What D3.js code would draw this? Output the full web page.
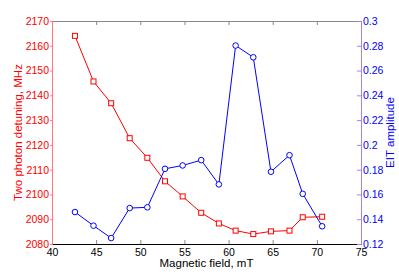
<!DOCTYPE html>
<html>
<head>
<meta charset="utf-8">
<script src="https://d3js.org/d3.v7.min.js"></script>
<style>
  body { margin: 0; background: #fff; }
  text { font-family: "Liberation Sans", Arial, sans-serif; }
</style>
</head>
<body>
<div id="chart"></div>
<script>
// data
var field = [42.6, 44.7, 46.7, 48.8, 50.8, 52.8, 54.8, 56.9, 58.9, 60.8, 62.8, 64.8, 66.9, 68.4, 70.6];
var detuning = [2164, 2145.6, 2136.8, 2122.7, 2114.8, 2105.3, 2099.2, 2092.6, 2088.3, 2085.4, 2084.0, 2085.1, 2085.4, 2090.8, 2091.0];
var eit = [0.1458, 0.1348, 0.1248, 0.149, 0.1496, 0.1807, 0.1834, 0.1877, 0.1681, 0.2802, 0.2707, 0.1783, 0.1917, 0.1605, 0.1343];
var xTicks = [40, 45, 50, 55, 60, 65, 70, 75];
var leftTicks = [2080, 2090, 2100, 2110, 2120, 2130, 2140, 2150, 2160, 2170];
var rightTicks = [0.12, 0.14, 0.16, 0.18, 0.2, 0.22, 0.24, 0.26, 0.28, 0.3];

var W = 399, H = 275;
var margin = {top: 21, right: 38, bottom: 31, left: 52};
var width = W - margin.left - margin.right,
    height = H - margin.top - margin.bottom;

var svg = d3.select("#chart").append("svg")
    .attr("width", W).attr("height", H)
  .append("g")
    .attr("transform", "translate(" + margin.left + "," + margin.top + ")");

var x = d3.scaleLinear().domain([40, 75]).range([0, width]);
var yL = d3.scaleLinear().domain([2080, 2170]).range([height, 0]);
var yR = d3.scaleLinear().domain([0.12, 0.3]).range([height, 0]);

var red = "#ff0000", blue = "#0000ff";

// top axis (grey, ticks inward)
var topAxis = svg.append("g")
  .call(d3.axisTop(x).tickValues(xTicks).tickSize(-4).tickFormat(""));
topAxis.select(".domain").attr("stroke", "#888");
topAxis.selectAll(".tick line").attr("stroke", "#888");

// bottom axis
var bot = svg.append("g")
  .attr("transform", "translate(0," + height + ")")
  .call(d3.axisBottom(x).tickValues(xTicks).tickSize(-4).tickPadding(4));
bot.select(".domain").attr("stroke", "#000");
bot.selectAll(".tick line").attr("stroke", "#888");
bot.selectAll("text").attr("font-size", "10.5px").attr("fill", "#000").attr("dy", "0.75em");

// left axis
var la = svg.append("g")
  .call(d3.axisLeft(yL).tickValues(leftTicks).tickSize(2).tickPadding(1).tickFormat(d3.format("d")));
la.select(".domain").attr("stroke", "#ff7a7a");
la.selectAll(".tick line").attr("stroke", "#ff7a7a");
la.selectAll("text").attr("font-size", "10.5px").attr("fill", red);

// right axis
var ra = svg.append("g")
  .attr("transform", "translate(" + width + ",0)")
  .call(d3.axisRight(yR).tickValues(rightTicks).tickSize(-4).tickPadding(2)
    .tickFormat(function(d) { return d3.format("~g")(d); }));
ra.select(".domain").attr("stroke", "#9a88ee");
ra.selectAll(".tick line").attr("stroke", "#9a88ee");
ra.selectAll("text").attr("font-size", "10.5px").attr("fill", blue);

// red line with squares
svg.append("path")
  .datum(field)
  .attr("fill", "none").attr("stroke", red).attr("stroke-width", 1)
  .attr("d", d3.line().x(function(d) { return x(d); }).y(function(d, i) { return yL(detuning[i]); }));
svg.append("g").selectAll("rect")
  .data(field).enter().append("rect")
  .attr("x", function(d) { return x(d) - 2.5; })
  .attr("y", function(d, i) { return yL(detuning[i]) - 2.5; })
  .attr("width", 5).attr("height", 5)
  .attr("fill", "#fff").attr("stroke", red).attr("stroke-width", 1);

// blue line with circles
svg.append("path")
  .datum(field)
  .attr("fill", "none").attr("stroke", blue).attr("stroke-width", 1)
  .attr("d", d3.line().x(function(d) { return x(d); }).y(function(d, i) { return yR(eit[i]); }));
svg.append("g").selectAll("circle")
  .data(field).enter().append("circle")
  .attr("cx", function(d) { return x(d); })
  .attr("cy", function(d, i) { return yR(eit[i]); })
  .attr("r", 2.8)
  .attr("fill", "#fff").attr("stroke", blue).attr("stroke-width", 1);

// axis labels
svg.append("text")
  .attr("x", width / 2).attr("y", height + 23)
  .attr("text-anchor", "middle").attr("font-size", "11.5px").attr("fill", "#000")
  .text("Magnetic field, mT");

svg.append("text")
  .attr("transform", "rotate(-90)")
  .attr("x", -height / 2).attr("y", -30)
  .attr("text-anchor", "middle").attr("font-size", "11.5px").attr("fill", red)
  .text("Two photon detuning, MHz");

svg.append("text")
  .attr("transform", "rotate(-90)")
  .attr("x", -height / 2).attr("y", width + 33)
  .attr("text-anchor", "middle").attr("font-size", "11.5px").attr("fill", blue)
  .text("EIT amplitude");
</script>
</body>
</html>
